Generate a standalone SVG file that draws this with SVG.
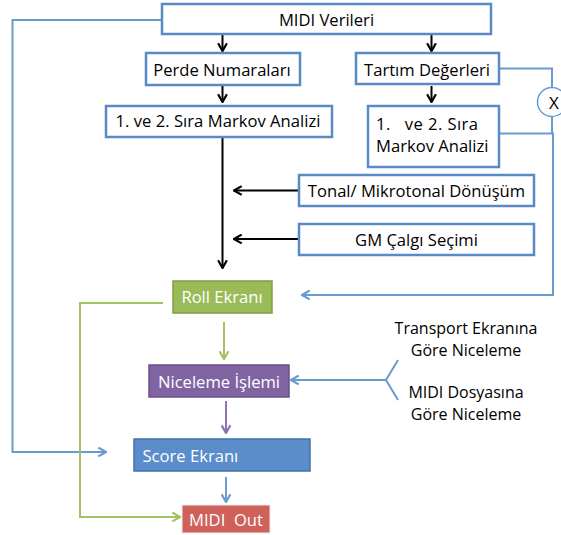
<svg xmlns="http://www.w3.org/2000/svg" width="561" height="535" viewBox="0 0 561 535">
<defs>
<style>
.t{font-family:"Open Sans","Noto Sans","DejaVu Sans",sans-serif;font-size:16.6px;fill:#000;}
.s{font-size:16px;}
.w{fill:#fff;}
.box{fill:#fff;stroke:#5A8AC6;stroke-width:2.5;}
.bl{fill:none;stroke:#6A9AD2;stroke-width:2;}
.bk{fill:none;stroke:#000;stroke-width:2;}
.gr{fill:none;stroke:#A3C165;stroke-width:2;}
.pu{fill:none;stroke:#8C74AE;stroke-width:2;}
</style>
<marker id="aK" viewBox="0 0 10 10" refX="9" refY="5" markerWidth="11" markerHeight="11" markerUnits="userSpaceOnUse" orient="auto"><path d="M2,1 L9,5 L2,9" fill="none" stroke="#000" stroke-width="2"/></marker>
<marker id="aB" viewBox="0 0 10 10" refX="9" refY="5" markerWidth="11" markerHeight="11" markerUnits="userSpaceOnUse" orient="auto"><path d="M2,1 L9,5 L2,9" fill="none" stroke="#6A9AD2" stroke-width="2"/></marker>
<marker id="aG" viewBox="0 0 10 10" refX="9" refY="5" markerWidth="11" markerHeight="11" markerUnits="userSpaceOnUse" orient="auto"><path d="M2,1 L9,5 L2,9" fill="none" stroke="#A3C165" stroke-width="2"/></marker>
<marker id="aP" viewBox="0 0 10 10" refX="9" refY="5" markerWidth="11" markerHeight="11" markerUnits="userSpaceOnUse" orient="auto"><path d="M2,1 L9,5 L2,9" fill="none" stroke="#8C74AE" stroke-width="2"/></marker>
</defs>
<rect width="561" height="535" fill="#fff"/>

<g id="connectors">
<path class="bk" d="M222.5,35 V51" marker-end="url(#aK)"/>
<path class="bk" d="M431.5,35 V51" marker-end="url(#aK)"/>
<path class="bk" d="M222.5,86 V102" marker-end="url(#aK)"/>
<path class="bk" d="M431.5,86 V102" marker-end="url(#aK)"/>
<path class="bk" d="M222.5,137 V268" marker-end="url(#aK)"/>
<path class="bk" d="M299,190.5 H234" marker-end="url(#aK)"/>
<path class="bk" d="M299,239 H234" marker-end="url(#aK)"/>
<path class="bl" d="M500,68.5 H552 V87.5"/>
<path class="bl" d="M552,116.5 V133.5"/>
<path class="bl" d="M500,133.5 H553 V295 H302" marker-end="url(#aB)"/>
<path class="bl" d="M161,20 H12.5 V452 H106" marker-end="url(#aB)"/>
<path class="bl" d="M386,380 H291" marker-end="url(#aB)"/>
<path class="bl" d="M398,360 L386,380 L398,400"/>
<path class="bl" d="M226,477 V502" marker-end="url(#aB)"/>
<path class="gr" d="M163,303 H80 V517 H180" marker-end="url(#aG)"/>
<path class="gr" d="M224,322 V359" marker-end="url(#aG)"/>
<path class="pu" d="M226,401 V433" marker-end="url(#aP)"/>
</g>

<g id="n-midi-verileri">
<rect class="box" x="162" y="4" width="329" height="30"/>
<text class="t" x="326.5" y="26" text-anchor="middle">MIDI Verileri</text>
</g>
<g id="n-perde">
<rect class="box" x="146" y="53" width="154" height="32"/>
<text class="t" x="222" y="75.5" text-anchor="middle">Perde Numaraları</text>
</g>
<g id="n-tartim">
<rect class="box" x="356" y="53" width="143" height="31"/>
<text class="t" x="427" y="75.5" text-anchor="middle">Tartım Değerleri</text>
</g>
<g id="n-markov1">
<rect class="box" x="106" y="106" width="226" height="31"/>
<text class="t" x="218" y="127" text-anchor="middle" textLength="205" lengthAdjust="spacing">1. ve 2. Sıra Markov Analizi</text>
</g>
<g id="n-markov2">
<rect class="box" x="368" y="106" width="131" height="61"/>
<text class="t" x="376" y="130" style="white-space:pre" textLength="102" lengthAdjust="spacing">1.   ve 2. Sıra</text>
<text class="t" x="376" y="152">Markov Analizi</text>
</g>
<g id="n-x">
<circle cx="552" cy="102" r="14.5" fill="#fff" stroke="#6A9AD2" stroke-width="1.5"/>
<text class="t" x="554" y="108.5" text-anchor="middle" style="font-size:17px">X</text>
</g>
<g id="n-tonal">
<rect class="box" x="299" y="175" width="235" height="31"/>
<text class="t" x="416.5" y="196.5" text-anchor="middle">Tonal/ Mikrotonal Dönüşüm</text>
</g>
<g id="n-gm">
<rect class="box" x="299" y="224" width="235" height="31"/>
<text class="t" x="416.5" y="245.5" text-anchor="middle">GM Çalgı Seçimi</text>
</g>
<g id="n-roll">
<rect x="173" y="281" width="99" height="32" fill="#9BBB59" stroke="#7F9C45" stroke-width="1.5"/>
<text class="t w" x="222" y="303" text-anchor="middle">Roll Ekranı</text>
</g>
<g id="n-niceleme">
<rect x="149" y="365" width="140" height="32" fill="#8064A2" stroke="#67508A" stroke-width="1.5"/>
<text class="t w" x="219" y="387.5" text-anchor="middle">Niceleme İşlemi</text>
</g>
<g id="n-transport">
<text class="t s" x="466" y="334" text-anchor="middle">Transport Ekranına</text>
<text class="t s" x="466" y="356" text-anchor="middle">Göre Niceleme</text>
</g>
<g id="n-dosya">
<text class="t s" x="466" y="397.5" text-anchor="middle">MIDI Dosyasına</text>
<text class="t s" x="466" y="419.5" text-anchor="middle">Göre Niceleme</text>
</g>
<g id="n-score">
<rect x="134" y="439" width="176" height="32" fill="#5A8DC9" stroke="#4472A8" stroke-width="1.5"/>
<text class="t w" x="142.5" y="461.5">Score Ekranı</text>
</g>
<g id="n-midiout">
<rect x="182" y="505" width="88" height="28" fill="#CF615B" stroke="#EDEDED" stroke-width="1"/>
<text class="t w" x="226" y="525.5" text-anchor="middle" style="white-space:pre">MIDI  Out</text>
</g>
</svg>
